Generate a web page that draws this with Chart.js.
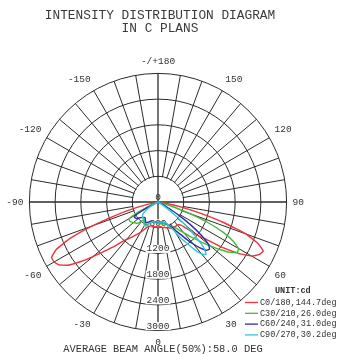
<!DOCTYPE html>
<html>
<head>
<meta charset="utf-8">
<title>Intensity distribution diagram</title>
<script src="https://cdn.jsdelivr.net/npm/chart.js@4.4.1/dist/chart.umd.min.js"></script>
<style>
  html, body { margin: 0; padding: 0; background: #fff; }
  #box { width: 338px; height: 354px; }
</style>
</head>
<body>
<div id="box"><canvas id="chart" width="338" height="354"></canvas></div>
<script>
// Gamma angles (deg) of the lower hemisphere: 0 = nadir, + = first half-plane (C0, C30 ...)
const gammaAngles = [
  -90, -87.5, -85, -82.5, -80, -77.5, -75, -72.5, -70, -67.5,
  -65, -62.5, -60, -57.5, -55, -52.5, -50, -47.5, -45, -42.5,
  -40, -37.5, -35, -32.5, -30, -27.5, -25, -22.5, -20, -17.5,
  -15, -12.5, -10, -7.5, -5, -2.5, 0, 2.5, 5, 7.5,
  10, 12.5, 15, 17.5, 20, 22.5, 25, 27.5, 30, 32.5,
  35, 37.5, 40, 42.5, 45, 47.5, 50, 52.5, 55, 57.5,
  60, 62.5, 65, 67.5, 70, 72.5, 75, 77.5, 80, 82.5,
  85, 87.5, 90
];

// Luminous intensity (cd) per C plane, same order as gammaAngles
const planeC0_180 = [
  0, 0, 0, 0, 0, 230, 580, 1050, 1630, 2220,
  2620, 2800, 2800, 2730, 2570, 2290, 1980, 1700, 1490, 1280,
  1140, 1050, 960, 890, 820, 750, 680, 630, 610, 580,
  580, 580, 580, 580, 580, 580, 580, 580, 580, 580,
  610, 610, 610, 630, 630, 650, 680, 680, 680, 680,
  700, 700, 700, 720, 770, 930, 1210, 1450, 1870, 2240,
  2520, 2660, 2710, 2520, 2190, 1630, 1050, 580, 230, 0,
  0, 0, 0
];
const planeC30_210 = [
  0, 0, 0, 0, 0, 0, 0, 0, 0, 120,
  230, 580, 770, 790, 790, 770, 750, 720, 700, 650,
  560, 510, 560, 590, 610, 600, 580, 540, 510, 490,
  470, 470, 470, 470, 490, 500, 510, 510, 510, 510,
  510, 520, 530, 540, 560, 580, 610, 630, 650, 700,
  750, 840, 930, 1070, 1210, 1400, 1590, 1820, 2050, 2190,
  2170, 1980, 1680, 1280, 820, 350, 120, 0, 0, 0,
  0, 0, 0
];
const planeC60_240 = [
  0, 0, 0, 0, 0, 0, 0, 0, 0, 0,
  0, 280, 560, 650, 650, 630, 580, 540, 510, 490,
  470, 490, 510, 540, 560, 540, 510, 490, 470, 470,
  470, 470, 470, 470, 470, 470, 470, 470, 470, 470,
  470, 490, 490, 510, 510, 560, 610, 650, 700, 820,
  930, 1100, 1280, 1450, 1590, 1630, 1540, 1280, 930, 580,
  280, 120, 0, 0, 0, 0, 0, 0, 0, 0,
  0, 0, 0
];
const planeC90_270 = [
  0, 0, 0, 0, 0, 0, 0, 0, 0, 0,
  0, 90, 190, 280, 350, 420, 470, 490, 510, 510,
  510, 540, 580, 610, 630, 630, 610, 560, 510, 490,
  470, 470, 470, 470, 470, 470, 470, 470, 470, 470,
  470, 490, 490, 510, 510, 560, 630, 700, 820, 1000,
  1170, 1400, 1590, 1660, 1520, 1170, 820, 470, 230, 90,
  0, 0, 0, 0, 0, 0, 0, 0, 0, 0,
  0, 0, 0
];

const planeLabels = ['C0/180,144.7deg', 'C30/210,26.0deg', 'C60/240,31.0deg', 'C90/270,30.2deg'];
const planeColors = ['#e8353b', '#46b83a', '#2e2eaa', '#33c6d8'];
const planeSeries = [planeC0_180, planeC30_210, planeC60_240, planeC90_270];

// Radial rings and the labelled directions
const ringValues = [0, 600, 1200, 1800, 2400, 3000];
const directionLabels = [180, 150, 120, 90, 60, 30, 0, -30, -60, -90, -120, -150];

const titleLines = ['INTENSITY DISTRIBUTION DIAGRAM', 'IN C PLANS'];
const unitText = 'UNIT:cd';
const beamText = 'AVERAGE BEAM ANGLE(50%):58.0 DEG';

const MONO = '"Liberation Mono", "DejaVu Sans Mono", monospace';
const INK = '#333';
const GRID = '#2b2b2b';

// Full circle, clockwise from the top (180) over the + side to the nadir and back over the - side
const ANGLE_STEP = 2.5;
const circleAngles = [];
for (let i = 0; i < 360 / ANGLE_STEP; i++) circleAngles.push(180 - i * ANGLE_STEP);

function onCircle(series) {
  return circleAngles.map(g => {
    const k = gammaAngles.indexOf(g);
    return k >= 0 ? series[k] : 0;
  });
}

const diagramDecor = {
  id: 'diagramDecor',
  beforeDatasetsDraw(chart) {
    const s = chart.scales.r;
    const ctx = chart.ctx;
    const cx = s.xCenter, cy = s.yCenter;
    const r0 = s.getDistanceFromCenterForValue(ringValues[1]);
    ctx.save();
    // the spokes start at the first ring
    ctx.fillStyle = '#fff';
    ctx.beginPath();
    ctx.arc(cx, cy, r0 - 0.7, 0, Math.PI * 2);
    ctx.fill();
    ctx.strokeStyle = GRID;
    ctx.lineWidth = 1.3;
    ctx.beginPath();
    ctx.moveTo(cx - r0, cy); ctx.lineTo(cx + r0, cy);
    ctx.moveTo(cx, cy - r0); ctx.lineTo(cx, cy + r0);
    ctx.stroke();
    // ring values along the nadir axis
    ctx.font = '9.5px ' + MONO;
    ctx.textAlign = 'center';
    ctx.textBaseline = 'middle';
    ringValues.forEach(v => {
      const y = cy + s.getDistanceFromCenterForValue(v) - 4.5;
      const t = String(v);
      const w = ctx.measureText(t).width;
      if (v > 0) {
        ctx.fillStyle = '#fff';
        ctx.fillRect(cx - w / 2 - 1, y - 4, w + 2, 8);
      }
      ctx.fillStyle = INK;
      ctx.fillText(t, cx, y);
    });
    ctx.restore();
  },
  afterDraw(chart) {
    const ctx = chart.ctx;
    ctx.save();
    ctx.fillStyle = '#3a3a3a';
    ctx.textAlign = 'center';
    ctx.textBaseline = 'middle';
    ctx.font = '12.8px ' + MONO;
    titleLines.forEach((t, i) => ctx.fillText(t, 160, 15.7 + i * 12.6));

    ctx.font = '10.4px ' + MONO;
    ctx.fillStyle = INK;
    ctx.fillText(beamText, 163, 349);

    ctx.textAlign = 'left';
    ctx.font = 'bold 8.5px ' + MONO;
    ctx.fillText(unitText, 275, 290.5);
    ctx.font = '8.5px ' + MONO;
    chart.data.datasets.forEach((ds, i) => {
      const y = 302.5 + i * 10.8;
      ctx.strokeStyle = ds.borderColor;
      ctx.lineWidth = 1.3;
      ctx.beginPath();
      ctx.moveTo(245, y); ctx.lineTo(258, y);
      ctx.stroke();
      ctx.fillStyle = INK;
      ctx.fillText(ds.label, 260, y);
    });
    ctx.restore();
  }
};

new Chart(document.getElementById('chart'), {
  type: 'radar',
  data: {
    labels: circleAngles,
    datasets: planeSeries.map((series, i) => ({
      label: planeLabels[i],
      data: onCircle(series),
      borderColor: planeColors[i],
      borderWidth: 1.4,
      fill: false,
      pointRadius: 0,
      tension: 0.1,
      order: 4 - i
    }))
  },
  options: {
    responsive: false,
    animation: false,
    devicePixelRatio: 1,
    layout: { padding: { top: 56, bottom: 6, left: 4, right: 30 } },
    plugins: {
      legend: { display: false },
      tooltip: { enabled: false },
      title: { display: false }
    },
    elements: { line: { borderJoinStyle: 'round' } },
    scales: {
      r: {
        min: 0,
        max: ringValues[ringValues.length - 1],
        ticks: { stepSize: 600, display: false },
        grid: { circular: true, color: GRID, lineWidth: 1 },
        angleLines: {
          display: true,
          color: GRID,
          lineWidth: ctx => (ctx.index % 36 === 0 ? 1.3 : (ctx.index % 4 === 0 ? 1 : 0))
        },
        pointLabels: {
          display: true,
          padding: 6,
          color: INK,
          font: { family: MONO, size: 9.5 },
          callback: g => (directionLabels.includes(g) ? (g === 180 ? '-/+180' : String(g)) : '')
        }
      }
    }
  },
  plugins: [diagramDecor]
});
</script>
</body>
</html>
